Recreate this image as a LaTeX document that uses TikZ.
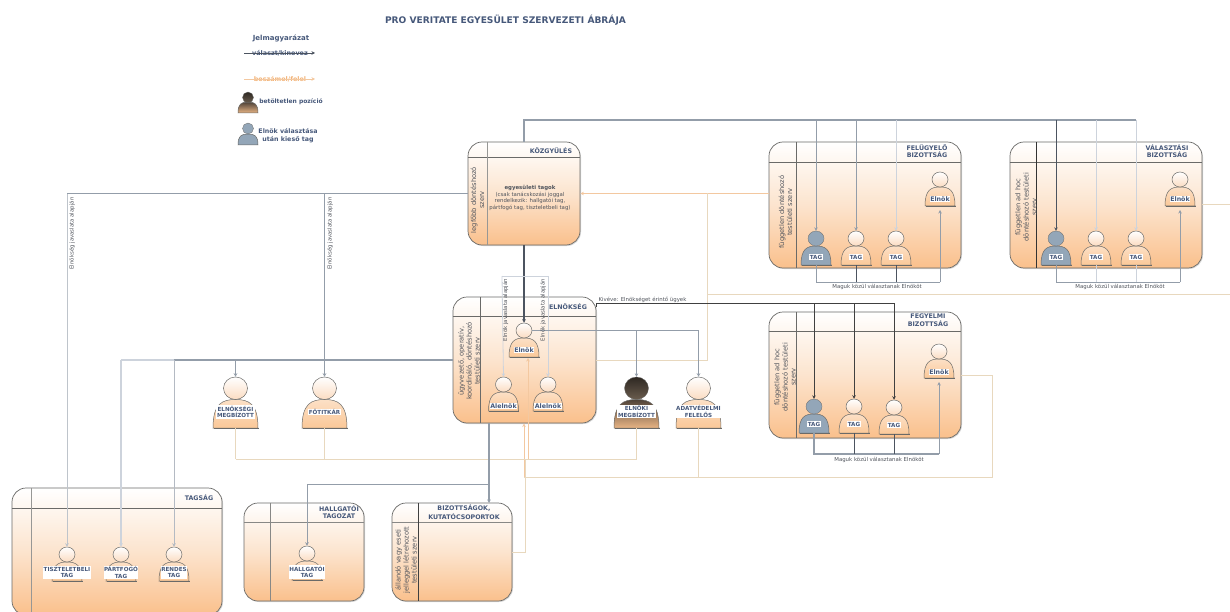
\documentclass[tikz,border=0pt]{standalone}
\usepackage{fontspec}
\setmainfont{DejaVu Sans}
\usetikzlibrary{arrows.meta,shapes.geometric,calc,shadows}
\definecolor{ttl}{HTML}{46587A}
\definecolor{txt}{HTML}{50545C}
\definecolor{bd}{HTML}{6A6A68}
\definecolor{org}{HTML}{FAC08C}
\definecolor{orgl}{HTML}{F3C8A0}
\definecolor{orgt}{HTML}{F2B47A}
\definecolor{beige}{HTML}{E8D8BE}
\definecolor{bluel}{HTML}{939DA9}
\definecolor{blued}{HTML}{4C5460}
\definecolor{bluevl}{HTML}{CDD3DC}
\definecolor{bluep}{HTML}{93A6B8}
\definecolor{cmid}{HTML}{FCE4CE}
\definecolor{pka}{HTML}{FBDCC2}
\definecolor{pkb}{HTML}{FCE0C6}
\definecolor{pkc}{HTML}{FBC898}
\definecolor{dka}{HTML}{2E2822}
\definecolor{dkb}{HTML}{6A5C4E}
\definecolor{dkc}{HTML}{4E4238}
\definecolor{dkd}{HTML}{E8B484}
\newcommand{\fs}[1]{\fontsize{#1}{#1}\selectfont}
\newcommand{\mx}{\fontsize{6.3}{7}\selectfont}
\tikzset{
  x=1pt,y=-1pt,
  frame/.style={draw=bd,line width=.7pt,rounded corners=14pt,top color=white,bottom color=org,middle color=cmid,inner sep=0,
    drop shadow={opacity=.3,shadow xshift=1pt,shadow yshift=-1pt}},
  frametitle/.style={font=\fs{6.3}\bfseries,text=ttl,align=center,inner sep=0,text depth=0pt},
  sidetext/.style={font=\fontsize{6.7}{8.1}\selectfont,text=txt,align=center,rotate=90,inner sep=0},
  plabel/.style={font=\fontsize{5.6}{6.8}\selectfont\bfseries,text=ttl,align=center,fill=white,inner sep=.6pt},
  peachHead/.style={ellipse,draw=bd,line width=.5pt,top color=white,bottom color=pka,inner sep=0},
  blueHead/.style={ellipse,draw=bd,line width=.3pt,fill=bluep,inner sep=0},
  darkHead/.style={ellipse,draw=bd,line width=.3pt,top color=dka,bottom color=dkb,inner sep=0},
  peachBody/.style={draw=bd,line width=.5pt,top color=pkb,bottom color=pkc},
  blueBody/.style={draw=bd,line width=.5pt,fill=bluep},
  darkBody/.style={draw=bd,line width=.5pt,top color=dkc,bottom color=dkd},
  tip/.style={-{Stealth[length=3.5pt,width=3.5pt]}},
  blL/.style={draw=bluel,line width=.9pt},
  blD/.style={draw=blued,line width=.9pt},
  blV/.style={draw=bluevl,line width=.8pt},
  orL/.style={draw=orgl,line width=.9pt},
  beL/.style={draw=beige,line width=1pt},
  note/.style={font=\fs{5.4},text=txt,inner sep=0},
  vnote/.style={font=\fs{5.4},text=txt,rotate=90,inner sep=0},
}
% [scale]{id}{kind}{cx}{head top}{label}{label y below head top}
\newcommand{\person}[7][1]{%
  \begin{scope}[shift={(#4,#5)}]
    \pgfmathsetmacro\hw{16*#1}\pgfmathsetmacro\hh{15*#1}
    \pgfmathsetmacro\bw{15*#1}\pgfmathsetmacro\bh{19*#1}
    \path[#3Body] (-\bw,\hh+\bh) .. controls (-\bw,\hh+.15*\bh) and (-.6*\bw,\hh) .. (0,\hh)
       .. controls (.6*\bw,\hh) and (\bw,\hh+.15*\bh) .. (\bw,\hh+\bh) -- cycle;
    \draw[bd,line width=.9pt] (-\bw+.5,\hh+\bh+.6) -- (\bw+.5,\hh+\bh+.6);
    \node[#3Head,minimum width=\hw pt,minimum height=\hh pt] (#2) at (0,\hh/2) {};
    \coordinate (#2-b) at (0,\hh+\bh);
    \coordinate (#2-r) at (\bw,\hh+.6*\bh);
    \node[plabel] (#2-l) at (0,#7) {#6};
  \end{scope}}
\begin{document}
\begin{tikzpicture}
\useasboundingbox (0,0) rectangle (1230,612);
% title and legend
\node[font=\fs{9.1}\bfseries,text=ttl,inner sep=0] (title) at (505.5,20) {PRO VERITATE EGYESÜLET SZERVEZETI ÁBRÁJA};
\node[font=\fs{7}\bfseries,text=ttl,inner sep=0] (lg) at (281,38) {Jelmagyarázat};
\node[font=\fs{6.4}\bfseries,text=ttl,inner sep=0] (lg1) at (280,53) {választ/kinevez};
\coordinate (lg1a) at (244,53); \coordinate (lg1b) at (315,53);
\draw[blD,line width=.6pt,tip] (lg1a) -- (lg1b);
\node[font=\fs{6.4}\bfseries,text=orgt,inner sep=0] (lg2) at (280,79) {beszámol/felel};
\coordinate (lg2a) at (244,79); \coordinate (lg2b) at (315,79);
\draw[orL,line width=.6pt,tip] (lg2a) -- (lg2b);
\begin{scope}[shift={(248,92)}]
  \path[darkBody] (-10,21) .. controls (-10,12) and (-7,10) .. (0,10) .. controls (7,10) and (10,12) .. (10,21) -- cycle;
  \node[darkHead,minimum width=11pt,minimum height=11pt] (lgd) at (0,5.5) {};
\end{scope}
\node[font=\fs{6}\bfseries,text=ttl,inner sep=0] (lg3) at (291,102) {betöltetlen pozíció};
\begin{scope}[shift={(248,123)}]
  \path[blueBody] (-10,22) .. controls (-10,13) and (-7,11) .. (0,11) .. controls (7,11) and (10,13) .. (10,22) -- cycle;
  \node[blueHead,minimum width=11pt,minimum height=11pt] (lgb) at (0,5.5) {};
\end{scope}
\node[font=\fontsize{6.3}{7.4}\selectfont\bfseries,text=ttl,align=center,inner sep=0] (lg4) at (288,135.5) {Elnök választása\\után kieső tag};

% frames
\node[frame,minimum width=112pt,minimum height=103pt] (koz) at (524,193.5) {};
\node[frame,minimum width=143pt,minimum height=126pt] (eln) at (524.5,360) {};
\node[frame,minimum width=192pt,minimum height=126pt] (fel) at (865,205) {};
\node[frame,minimum width=192pt,minimum height=126pt] (val) at (1106,205) {};
\node[frame,minimum width=192pt,minimum height=126pt] (feg) at (865,375) {};
\node[frame,minimum width=210pt,minimum height=127pt] (tag) at (117,551.5) {};
\node[frame,minimum width=120pt,minimum height=98pt] (hal) at (304,552) {};
\node[frame,minimum width=120pt,minimum height=98pt] (biz) at (452,552) {};
% swimlane dividers
\draw[bd,line width=.6pt] (koz.west |- 0,157) -- (koz.east |- 0,157);
\draw[bd!70,line width=.5pt] (487,142) -- (487,245);
\draw[bd,line width=.6pt] (eln.west |- 0,316) -- (eln.east |- 0,316);
\draw[bd,line width=.5pt] (480,297) -- (480,423);
\draw[bd,line width=.7pt] (fel.west |- 0,162) -- (fel.east |- 0,162);
\draw[bd,line width=.7pt] (796,142) -- (796,268);
\draw[bd,line width=.7pt] (val.west |- 0,162) -- (val.east |- 0,162);
\draw[black!80,line width=.6pt] (1036,142) -- (1036,268);
\draw[bd,line width=.7pt] (feg.west |- 0,331) -- (feg.east |- 0,331);
\draw[bd,line width=.8pt] (796,312) -- (796,438);
\draw[bd,line width=.7pt] (tag.west |- 0,508) -- (tag.east |- 0,508);
\draw[bd!70,line width=.8pt] (31,488) -- (31,612);
\draw[bd!80,line width=.5pt] (hal.west |- 0,522) -- (hal.east |- 0,522);
\draw[bd!80,line width=.5pt] (270,503) -- (270,601);
\draw[bd!80,line width=.5pt] (biz.west |- 0,522) -- (biz.east |- 0,522);
\draw[black!75,line width=.5pt] (418,503) -- (418,601);
% frame titles
\node[frametitle] (t1) at (551,151) {KÖZGYÜLÉS};
\node[frametitle] (t2) at (568,307) {ELNÖKSÉG};
\node[frametitle] (t3) at (927,151) {FELÜGYELŐ\\[1.5pt]BIZOTTSÁG};
\node[frametitle] (t4) at (1167,151) {VÁLASZTÁSI\\[1.5pt]BIZOTTSÁG};
\node[frametitle] (t5) at (928,320.5) {FEGYELMI\\[1.5pt]BIZOTTSÁG};
\node[frametitle] (t6) at (199,498) {TAGSÁG};
\node[frametitle] (t7) at (339,512) {HALLGATÓI\\[1.5pt]TAGOZAT};
\node[frametitle] (t8) at (464,512) {BIZOTTSÁGOK,\\[1.5pt]KUTATÓCSOPORTOK};
% side texts
\node[sidetext] (s1) at (477.5,200) {legfőbb döntéshozó\\szerv};
\node[sidetext] (s2) at (469,361) {ügyvezető, operatív,\\koordináló, döntéshozó\\testületi szerv};
\node[sidetext] (s3) at (785.5,212) {független döntéshozó\\testületi szerv};
\node[sidetext] (s4) at (1026,207) {független ad hoc\\döntéshozó testületi\\szerv};
\node[sidetext] (s5) at (785,377) {független ad hoc\\döntéshozó testületi\\szerv};
\node[sidetext] (s6) at (406,560) {állandó vagy eseti\\jelleggel létrehozott\\testületi szerv};
\node[font=\fontsize{5.4}{6.4}\selectfont,text=txt,align=center,inner sep=0] (ktxt) at (530,198) {{\bfseries egyesületi tagok}\\(csak tanácskozási joggal\\rendelkezik: hallgatói tag,\\pártfogó tag, tiszteletbeli tag)};

% people
\person{lin}{peach}{524}{323}{\mx Elnök}{27}
\person{al1}{peach}{503.5}{377}{\mx Alelnök}{29}
\person{al2}{peach}{548}{377}{\mx Alelnök}{29}
\person[1.5]{emg}{dark}{636.5}{377}{ELNÖKI\\MEGBÍZOTT}{34.5}
\person[1.5]{ada}{peach}{698.5}{377}{ADATVÉDELMI\\FELELŐS}{34.5}
\person[1.5]{esm}{peach}{235.5}{377}{ELNÖKSÉGI\\MEGBÍZOTT}{35}
\person[1.5]{fot}{peach}{324.5}{377}{FŐTITKÁR}{35}
\person{fe1}{blue}{816}{231}{TAG}{26}
\person{fe2}{peach}{856}{231}{TAG}{26}
\person{fe3}{peach}{896}{231}{TAG}{26}
\person{fee}{peach}{940}{172}{\mx Elnök}{27}
\person{va1}{blue}{1056}{231}{TAG}{26}
\person{va2}{peach}{1096}{231}{TAG}{26}
\person{va3}{peach}{1136}{231}{TAG}{26}
\person{vae}{peach}{1180}{172}{\mx Elnök}{27}
\person{fg1}{blue}{814}{399}{TAG}{25}
\person{fg2}{peach}{854}{399}{TAG}{25}
\person{fg3}{peach}{894}{400}{TAG}{25}
\person{fge}{peach}{939}{344}{\mx Elnök}{28}
\person{tis}{peach}{67}{547}{TISZTELETBELI\\TAG}{25.5}
\person{par}{peach}{121}{547}{PÁRTFOGÓ\\TAG}{25.5}
\person{ren}{peach}{174}{547}{RENDES\\TAG}{25.5}
\person{hlg}{peach}{307}{546}{HALLGATÓI\\TAG}{26}

% junction coordinates
\coordinate (bus) at (524,120);
\coordinate (busE) at (1136,120);
\coordinate (feb) at (596,303);
\coordinate (o1) at (707,193);
\coordinate (o2) at (707,294);
\coordinate (o3) at (1230,294);
\coordinate (o4) at (1230,205);
\coordinate (b1) at (489,423);
\coordinate (b2) at (489,484);
\coordinate (b3) at (489,503);
\coordinate (g1) at (502,276);
\coordinate (g2) at (548,276);
\coordinate (r1) at (992,375);
\coordinate (r2) at (992,477);
\coordinate (r3) at (524,477);
\coordinate (r4) at (524,423.5);
\coordinate (r5) at (528,459);
\coordinate (r6) at (235.5,459);
\coordinate (r7) at (528,358);
\coordinate (r8) at (525,459);
\coordinate (r9) at (525,552);
\coordinate (h1) at (67,193);
\coordinate (h2) at (121,360);

% orange connectors
\draw[orL,tip] (fel.west |- koz.east) -- (koz.east);
\draw[beL] (eln.east) -| (o1);
\draw[beL] (o2) -- (o3);
\draw[beL] (val.east) -- (o4);
\draw[beL] (feg.east |- r1) -- (r1) -- (r2) -- (r3);
\draw[orL,tip] (r3) -- (r4);
\draw[beL] (ada-b) -- (ada-b |- r3);
\draw[beL] (r6) -- (emg-b |- r6) -- (emg-b);
\draw[beL] (esm-b) -- (r6);
\draw[beL] (fot-b) -- (fot-b |- r6);
\draw[orL,tip] (r5) -- (r7);
\draw[beL] (biz.east |- r9) -- (r9) -- (r8);
% blue connectors
\draw[bluel!60,line width=1pt,tip] (h1) -- (tis.north);
\draw[blL] (koz.west) -- (koz.west -| h1);
\draw[blL,tip] (fot.north |- koz.west) -- (fot.north);
\draw[bluevl,line width=1.1pt,tip] (h2) -- (par.north);
\draw[bluevl,line width=1.5pt] (h2) -- (ren.north |- h2);
\draw[bluel,line width=1.5pt] (eln.west) -- (ren.north |- eln.west);
\draw[bluel!70,line width=.8pt,tip] (ren.north |- eln.west) -- (ren.north);
\draw[blL,line width=.6pt,tip] (esm.north |- eln.west) -- (esm.north);
\draw[blD,line width=1.2pt,tip] (koz.south -| lin.north) -- (lin.north);
\draw[blL,line width=1.1pt] (koz.north -| bus) -- (bus) -- (busE);
\draw[blV,tip] (g1) -- (al1.north);
\draw[blV] (g1) -- (g2);
\draw[blV,tip] (g2) -- (al2.north);
\draw[blL,line width=1pt,tip] (lin.east) -| (ada.north);
\draw[blL,line width=1pt,tip] (emg.north |- lin.east) -- (emg.north);
\draw[blL,line width=1.1pt,tip] (b1) -- (b3);
\draw[blL,line width=.6pt,tip] (b2) -| (hlg.north);
% committee connectors
\draw[blL,line width=.6pt,tip] (fe1.north |- bus) -- (fe1.north);
\draw[blL,line width=.6pt,tip] (fe2.north |- bus) -- (fe2.north);
\draw[blV,tip] (fe3.north |- bus) -- (fe3.north);
\draw[blD,line width=.6pt,tip] (va1.north |- bus) -- (va1.north);
\draw[blV,tip] (va2.north |- bus) -- (va2.north);
\draw[blV,line width=.5pt,tip] (va3.north |- bus) -- (va3.north);
\draw[black!75,line width=.8pt,tip] (eln.east |- feb) ++(0,4) -- ++(0,-4) -- (fg3.north |- feb) -- (fg3.north);
\draw[black!75,line width=.7pt,tip] (fg1.north |- feb) -- (fg1.north);
\draw[black!75,line width=.7pt,tip] (fg2.north |- feb) -- (fg2.north);
% elects-chair brackets
\coordinate (c1) at (940,282); \coordinate (c2) at (1180,282); \coordinate (c3) at (939,454);
\draw[blL,line width=.5pt] (fe1-b) |- (c1);
\draw[blD,line width=.5pt] (fe2-b) -- (fe2-b |- c1);
\draw[blD,line width=.5pt] (fe3-b) -- (fe3-b |- c1);
\draw[blL,line width=.5pt,tip] (c1) -- ([yshift=-4pt]fee-b);
\draw[blL,line width=.5pt] (va1-b) |- (c2);
\draw[blV,line width=.5pt] (va2-b) -- (va2-b |- c2);
\draw[blV,line width=.5pt] (va3-b) -- (va3-b |- c2);
\draw[blL,line width=.5pt,tip] (c2) -- ([yshift=-4pt]vae-b);
\draw[bluel,line width=1.1pt] (fg1-b) |- (c3);
\draw[blD,line width=.7pt] (fg2-b) -- (fg2-b |- c3);
\draw[blD,line width=.8pt] (fg3-b) -- (fg3-b |- c3);
\draw[blL,line width=.5pt,tip] (c3) -- ([yshift=-4pt]fge-b);
% connector labels
\node[note] (n1) at (877,287) {Maguk közül választanak Elnököt};
\node[note] (n2) at (1120,287) {Maguk közül választanak Elnököt};
\node[note] (n3) at (879,460) {Maguk közül választanak Elnököt};
\node[note] (n4) at (642.5,300) {Kivéve: Elnökséget érintő ügyek};
\node[vnote] (n5) at (72,233.5) {Elnökség javaslata alapján};
\node[vnote] (n6) at (330,233.5) {Elnökség javaslata alapján};
\node[vnote] (n7) at (505.5,310) {Elnök javaslata alapján};
\node[vnote] (n8) at (543,310) {Elnök javaslata alapján};
\end{tikzpicture}
\end{document}
